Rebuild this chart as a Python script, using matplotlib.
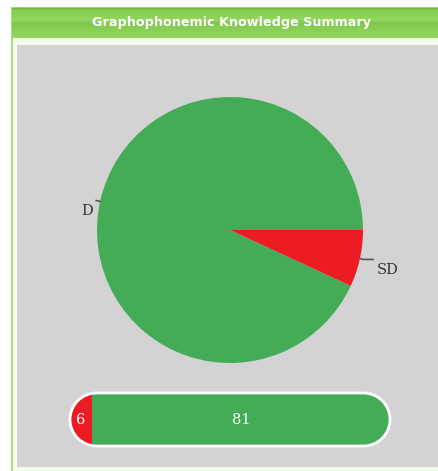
"""Graphophonemic knowledge summary: pie plus stacked pill bar"""

import numpy as np
import matplotlib
matplotlib.use("Agg")
import matplotlib.pyplot as plt
from matplotlib.patches import Rectangle, PathPatch
from matplotlib.path import Path
from matplotlib.colors import to_rgb

# Data
categories = ["D", "SD"]
values = [81, 6]
bar_order = ["SD", "D"]          # left to right in the pill bar

GREEN = "#44ac56"
RED = "#ed1c24"
GRAY = "#d3d3d3"
colors = {"D": GREEN, "SD": RED}

W, H = 438, 471


def pill_path(x0, y0, w, h):
    """Closed path of a capsule (semicircle ends)"""
    rad = h / 2
    right = Path.arc(-90, 90)
    left = Path.arc(90, 270)
    v1 = right.vertices * rad + [x0 + w - rad, y0 + rad]
    v2 = left.vertices * rad + [x0 + rad, y0 + rad]
    c1 = right.codes.copy()
    c2 = left.codes.copy()
    c2[0] = Path.LINETO
    verts = np.vstack([v1, v2, v1[:1]])
    codes = np.concatenate([c1, c2, [Path.CLOSEPOLY]])
    return Path(verts, codes)


fig = plt.figure(figsize=(W / 100, H / 100), dpi=100)
fig.patch.set_facecolor("white")

# Background axes in pixel units (y down)
bg = fig.add_axes([0, 0, 1, 1])
bg.set_axis_off()

# Panel body and border
bg.add_patch(Rectangle((11.5, 8), W, H, facecolor="#f3fbec",
                       edgecolor="#a8dc8a", lw=1.5))

# Header gradient (piecewise, by pixel row)
stops_y = [8, 20, 23, 27, 38]
stops_c = ["#84cc4e", "#94d65e", "#7dc84a", "#86cd52", "#95d65f"]
rows = np.arange(8, 38.5, 0.5)
rgb = np.array([to_rgb(c) for c in stops_c])
img = np.stack([np.interp(rows, stops_y, rgb[:, k]) for k in range(3)],
               axis=-1)[:, None, :]
bg.imshow(img, extent=[11.5, W, 38, 8], aspect="auto", zorder=2,
          interpolation="bilinear")
bg.plot([11.5, W], [8, 8], color="#6fbc40", lw=1.0, zorder=3)
bg.text(231, 22.5, "Graphophonemic Knowledge Summary", color="white",
        fontsize=9.2, fontweight="bold", family="DejaVu Sans",
        ha="center", va="center", zorder=4)
# Gray plot area
bg.add_patch(Rectangle((16.5, 45), W - 16, 422, facecolor=GRAY,
                       edgecolor="none", zorder=2))

bg.set_xlim(0, W)
bg.set_ylim(H, 0)

# Pie
cx, cy, r = 230, 230, 133
pax = fig.add_axes([(cx - r) / W, (H - cy - r) / H, 2 * r / W, 2 * r / H])
wedges, _ = pax.pie(values, colors=[colors[c] for c in categories],
                    startangle=0, counterclock=True,
                    wedgeprops=dict(linewidth=0))
pax.set_xlim(-1, 1)
pax.set_ylim(-1, 1)
pax.set_axis_off()

# Labels with short connectors
extend = [0.0, 0.07]
for w, name, ext in zip(wedges, categories, extend):
    mid = np.deg2rad((w.theta1 + w.theta2) / 2)
    x0, y0 = np.cos(mid), np.sin(mid)
    x1, y1 = 1.03 * x0, 1.03 * y0
    side = 1 if x0 > 0 else -1
    x2 = x1 + side * ext
    pax.plot([x0, x1, x2], [y0, y1, y1], color="#555555", lw=1.2,
             clip_on=False)
    pax.text(x2 + side * 0.025, y1 - 0.025, name, family="DejaVu Serif",
             fontsize=10.5, color="#333333",
             ha="left" if side > 0 else "right", va="top")

# Pill bar
px0, py0, pw, ph = 70, 393, 320, 53
bax = fig.add_axes([px0 / W, (H - py0 - ph) / H, pw / W, ph / H])
bax.set_axis_off()
clip = PathPatch(pill_path(px0, py0, pw, ph), transform=bg.transData)
left = 0
for name in bar_order:
    v = values[categories.index(name)]
    bars = bax.barh(0, v, left=left, height=1, color=colors[name],
                    linewidth=0)
    for b in bars:
        b.set_clip_path(clip)
    bax.text(left + v / 2, 0, str(v), color="white", family="DejaVu Serif",
             fontsize=10.5, ha="center", va="center")
    left += v
outline = PathPatch(pill_path(px0, py0, pw, ph), transform=bg.transData,
                    fill=False, edgecolor="white", lw=2, clip_on=False)
bax.add_patch(outline)
bax.set_xlim(0, sum(values))
bax.set_ylim(-0.5, 0.5)

fig.savefig("out.png", dpi=100)
